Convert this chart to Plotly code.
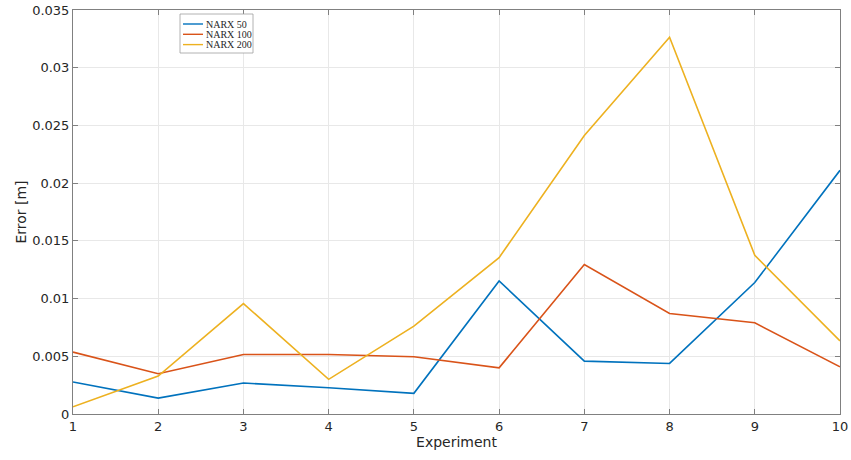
import plotly.graph_objects as go

experiments = [1, 2, 3, 4, 5, 6, 7, 8, 9, 10]
narx50 = [0.00277, 0.00138, 0.00268, 0.00228, 0.00179, 0.01153, 0.00458, 0.00438, 0.01139, 0.02111]
narx100 = [0.00536, 0.00349, 0.00516, 0.00516, 0.00496, 0.00400, 0.01295, 0.00871, 0.00790, 0.00409]
narx200 = [0.00063, 0.00329, 0.00957, 0.00300, 0.00761, 0.01355, 0.02413, 0.03264, 0.01375, 0.00634]
series_names = ["NARX 50", "NARX 100", "NARX 200"]
colors = ["#0072BD", "#D95319", "#EDB120"]
y_ticks = [0, 0.005, 0.01, 0.015, 0.02, 0.025, 0.03, 0.035]
y_tick_labels = ["0", "0.005", "0.01", "0.015", "0.02", "0.025", "0.03", "0.035"]

W, H = 851, 460
ML, MR, MT, MB = 73, 11, 10, 46
PW, PH = W - ML - MR, H - MT - MB


def px_x(p):
    return (p - ML) / PW


def px_y(p):
    return (H - MB - p) / PH


fig = go.Figure()
for name, vals, col in zip(series_names, [narx50, narx100, narx200], colors):
    fig.add_trace(go.Scatter(x=experiments, y=vals, mode="lines", name=name,
                             line=dict(color=col, width=1.6)))

axis_common = dict(
    showline=True, linecolor="#808080", linewidth=1, mirror="ticks",
    ticks="inside", ticklen=5, tickcolor="#808080",
    showgrid=True, gridcolor="#e8e8e8", gridwidth=1, zeroline=False,
    tickfont=dict(family="DejaVu Sans", size=13, color="#262626"),
    automargin=False,
)

fig.update_xaxes(range=[1, 10], tickvals=experiments, ticktext=[str(e) for e in experiments],
                 title=dict(text="Experiment", font=dict(family="DejaVu Sans", size=14, color="#262626"), standoff=0),
                 **axis_common)
fig.update_yaxes(range=[0, 0.035], tickvals=y_ticks, ticktext=y_tick_labels,
                 title=dict(text="Error [m]", font=dict(family="DejaVu Sans", size=14, color="#262626"), standoff=2),
                 **axis_common)

# Compact MATLAB-style legend box
box_l, box_r, box_t, box_b = 180, 253, 14, 53
line_l, line_r, text_l = 183, 203, 205
row_y0, row_dy = 24, 10.3
fig.add_shape(type="rect", xref="paper", yref="paper",
              x0=px_x(box_l), x1=px_x(box_r), y0=px_y(box_b), y1=px_y(box_t),
              fillcolor="white", line=dict(color="#a0a0a0", width=0.8), layer="above")
for i, (name, col) in enumerate(zip(series_names, colors)):
    ry = row_y0 + i * row_dy
    fig.add_shape(type="line", xref="paper", yref="paper",
                  x0=px_x(line_l), x1=px_x(line_r), y0=px_y(ry), y1=px_y(ry),
                  line=dict(color=col, width=1.4), layer="above")
    fig.add_annotation(xref="paper", yref="paper", x=px_x(text_l), y=px_y(ry),
                       xanchor="left", yanchor="middle", text=name, showarrow=False,
                       font=dict(family="Liberation Serif", size=10, color="#262626"),
                       borderpad=0)

fig.update_layout(
    width=W, height=H,
    margin=dict(l=ML, r=MR, t=MT, b=MB),
    plot_bgcolor="white", paper_bgcolor="white",
    showlegend=False,
)

fig.write_html("out.html", config={"displayModeBar": False},
               post_script="document.body.style.margin='0';")
